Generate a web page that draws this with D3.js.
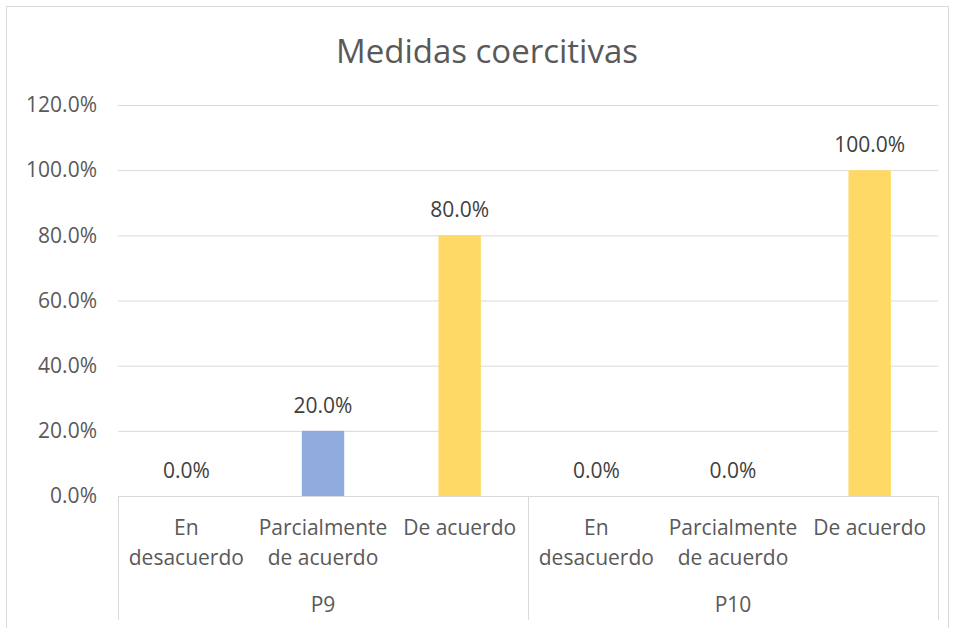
<!DOCTYPE html>
<html>
<head>
<meta charset="utf-8">
<script src="https://cdn.jsdelivr.net/npm/d3@7"></script>
<style>
  body { margin: 0; background: #fff; }
  text { font-family: "Open Sans", "Noto Sans", sans-serif; fill: #595959; }
</style>
</head>
<body>
<div id="chart"></div>
<script>
var title = "Medidas coercitivas";
var groups = ["P9", "P10"];
var answers = ["En desacuerdo", "Parcialmente de acuerdo", "De acuerdo"];
var answerLines = [["En", "desacuerdo"], ["Parcialmente", "de acuerdo"], ["De acuerdo"]];
var valuesP9 = [0, 0.2, 0.8];
var valuesP10 = [0, 0, 1.0];
var yTicks = [0, 0.2, 0.4, 0.6, 0.8, 1.0, 1.2];
var answerColors = ["#4472c4", "#8faadc", "#ffd966"];

function init() {
  var width = 957;
  var height = 628;
  var left = 118, right = 938, top = 105, bottom = 496;

  var rows = [];
  groups.forEach(function(g, gi) {
    var vals = gi == 0 ? valuesP9 : valuesP10;
    answers.forEach(function(a, ai) {
      rows.push({ group: g, answer: a, ai: ai, key: g + "|" + a, value: vals[ai] });
    });
  });

  var svg = d3.select("#chart").append("svg")
    .attr("width", width)
    .attr("height", height);

  // chart border
  svg.append("rect")
    .attr("x", 6.5).attr("y", 6.5)
    .attr("width", 942).attr("height", 640)
    .attr("fill", "none")
    .attr("stroke", "#d9d9d9");

  var xGroup = d3.scaleBand().domain(groups).range([left, right]);
  var x = d3.scaleBand()
    .domain(rows.map(function(d) { return d.key; }))
    .range([left, right])
    .paddingInner(0.69)
    .paddingOuter(0.345);
  var y = d3.scaleLinear().domain([0, 1.2]).range([bottom, top]);

  var yAxis = d3.axisLeft(y)
    .tickValues(yTicks)
    .tickSize(-(right - left))
    .tickFormat(d3.format(".1%"));

  var gy = svg.append("g")
    .attr("transform", "translate(" + left + ",0)")
    .call(yAxis);
  gy.select(".domain").remove();
  gy.selectAll(".tick line").attr("stroke", "#d9d9d9");
  gy.selectAll(".tick text")
    .attr("x", -21)
    .attr("font-size", "21px");

  svg.selectAll("rect.bar")
    .data(rows)
    .enter()
    .append("rect")
    .attr("class", "bar")
    .attr("x", function(d) { return x(d.key); })
    .attr("y", function(d) { return y(d.value); })
    .attr("width", x.bandwidth())
    .attr("height", function(d) { return y(0) - y(d.value); })
    .attr("fill", function(d) { return answerColors[d.ai]; });

  svg.selectAll("text.val")
    .data(rows)
    .enter()
    .append("text")
    .attr("class", "val")
    .attr("x", function(d) { return x(d.key) + x.bandwidth() / 2; })
    .attr("y", function(d) { return y(d.value) - 18; })
    .attr("text-anchor", "middle")
    .attr("font-size", "21px")
    .style("fill", "#404040")
    .text(function(d) { return d3.format(".1%")(d.value); });

  // category axis
  var axisG = svg.append("g");
  axisG.append("line")
    .attr("x1", left).attr("x2", right)
    .attr("y1", bottom + 0.5).attr("y2", bottom + 0.5)
    .attr("stroke", "#d9d9d9");
  var seps = [left].concat(groups.map(function(g) { return xGroup(g) + xGroup.bandwidth(); }));
  axisG.selectAll("line.sep")
    .data(seps)
    .enter()
    .append("line")
    .attr("class", "sep")
    .attr("x1", function(d) { return Math.round(d) + 0.5; })
    .attr("x2", function(d) { return Math.round(d) + 0.5; })
    .attr("y1", bottom)
    .attr("y2", 620)
    .attr("stroke", "#d9d9d9");

  var lab = axisG.selectAll("text.cat")
    .data(rows)
    .enter()
    .append("text")
    .attr("class", "cat")
    .attr("text-anchor", "middle")
    .attr("font-size", "21px")
    .attr("x", function(d) { return x(d.key) + x.bandwidth() / 2; })
    .attr("y", 535);
  lab.selectAll("tspan")
    .data(function(d) { return answerLines[d.ai].map(function(t) { return { t: t, x: x(d.key) + x.bandwidth() / 2 }; }); })
    .enter()
    .append("tspan")
    .attr("x", function(d) { return d.x; })
    .attr("dy", function(d, i) { return i == 0 ? 0 : 30; })
    .text(function(d) { return d.t; });

  axisG.selectAll("text.grp")
    .data(groups)
    .enter()
    .append("text")
    .attr("class", "grp")
    .attr("text-anchor", "middle")
    .attr("font-size", "21px")
    .attr("x", function(d) { return xGroup(d) + xGroup.bandwidth() / 2; })
    .attr("y", 612)
    .text(function(d) { return d; });

  svg.append("text")
    .attr("x", 487)
    .attr("y", 63)
    .attr("text-anchor", "middle")
    .attr("font-size", "33px")
    .text(title);
}
window.onload = init;
</script>
</body>
</html>
